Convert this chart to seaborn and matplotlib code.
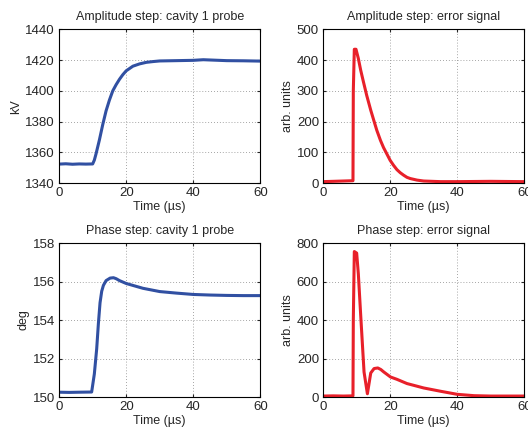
import numpy as np
import pandas as pd
import matplotlib
matplotlib.use("Agg")
import matplotlib.pyplot as plt
import seaborn as sns

# values (time in us)
amp_t = [0, 2, 4, 6, 8, 10, 10.5, 11, 12, 13, 14, 15, 16, 17, 18, 19, 20, 21, 22, 24, 26, 28, 30, 35, 40, 43, 50, 55, 60]
amp_kv = [1352.4, 1352.6, 1352.3, 1352.5, 1352.4, 1352.5, 1355, 1359, 1368, 1378, 1387, 1394, 1400, 1404, 1407.5, 1410.5, 1413, 1414.5, 1416, 1417.5, 1418.5, 1419, 1419.4, 1419.6, 1419.8, 1420.2, 1419.6, 1419.5, 1419.3]

amp_err_t = [0, 3, 6, 8.9, 9.0, 9.3, 9.8, 10.5, 11.2, 12, 13, 14.2, 15, 16, 17.1, 18, 19, 20, 21, 22, 23, 24, 25, 26, 28, 30, 35, 40, 50, 60]
amp_err = [5, 6, 7, 8, 300, 435, 435, 405, 367, 330, 285, 237, 208, 172, 139, 116, 95, 74, 58, 44, 34, 26, 19, 15, 10, 7, 5, 5, 6, 5]

ph_t = [0, 3, 6, 9.7, 10.5, 11.2, 11.7, 12.2, 12.7, 13.2, 14, 15.2, 16.2, 17, 18, 20, 22, 25, 30, 35, 40, 45, 50, 55, 60]
ph_deg = [150.25, 150.24, 150.25, 150.26, 151.2, 152.5, 153.8, 154.9, 155.5, 155.8, 156.05, 156.18, 156.2, 156.15, 156.05, 155.9, 155.8, 155.65, 155.48, 155.4, 155.33, 155.3, 155.28, 155.27, 155.27]

ph_err_t = [0, 3, 6, 8.9, 9.0, 9.3, 10, 10.5, 11.2, 12.2, 13.2, 14.2, 15.2, 16.3, 17.2, 18.1, 20.1, 22, 25, 30, 35, 40, 45, 50, 60]
ph_err = [5, 6, 5, 6, 400, 756, 748, 640, 426, 130, 17, 125, 148, 151, 143, 130, 104, 92, 70, 47, 30, 14, 7, 5, 5]

sns.set_style("ticks")
plt.rcParams["font.family"] = ["Liberation Sans", "DejaVu Sans"]
plt.rcParams["font.size"] = 9

blue = "#3150a2"
red = "#e8202a"

fig = plt.figure(figsize=(5.28, 4.30), dpi=100)
w, h = 0.381, 0.358
ax1 = fig.add_axes([0.112, 0.574, w, h])
ax2 = fig.add_axes([0.612, 0.574, w, h])
ax3 = fig.add_axes([0.112, 0.0767, w, h])
ax4 = fig.add_axes([0.612, 0.0767, w, h])

panels = [
    (ax1, amp_t, amp_kv, blue, "Amplitude step: cavity 1 probe", "kV", (1340, 1440), np.arange(1340, 1441, 20)),
    (ax2, amp_err_t, amp_err, red, "Amplitude step: error signal", "arb. units", (0, 500), np.arange(0, 501, 100)),
    (ax3, ph_t, ph_deg, blue, "Phase step: cavity 1 probe", "deg", (150, 158), np.arange(150, 159, 2)),
    (ax4, ph_err_t, ph_err, red, "Phase step: error signal", "arb. units", (0, 800), np.arange(0, 801, 200)),
]

for ax, t, y, c, title, ylab, ylim, yt in panels:
    df = pd.DataFrame({"t": t, "y": y})
    sns.lineplot(data=df, x="t", y="y", ax=ax, color=c, lw=2.2)
    ax.set_xlim(0, 60)
    ax.set_xticks([0, 20, 40, 60])
    ax.set_ylim(*ylim)
    ax.set_yticks(yt)
    ax.set_title(title, fontsize=9, pad=6.5)
    ax.set_xlabel("Time (\u00b5s)", fontsize=9, labelpad=1.5)
    ax.set_ylabel(ylab, fontsize=9, labelpad=2)
    ax.grid(True, ls=(0, (1, 2.5)), color="#888888", lw=0.6)
    ax.tick_params(direction="in", top=True, right=True, length=2.5, labelsize=9.5, pad=3)
    for s in ax.spines.values():
        s.set_visible(True)
        s.set_linewidth(0.8)
        s.set_color("black")

fig.savefig("out.png", dpi=100)
